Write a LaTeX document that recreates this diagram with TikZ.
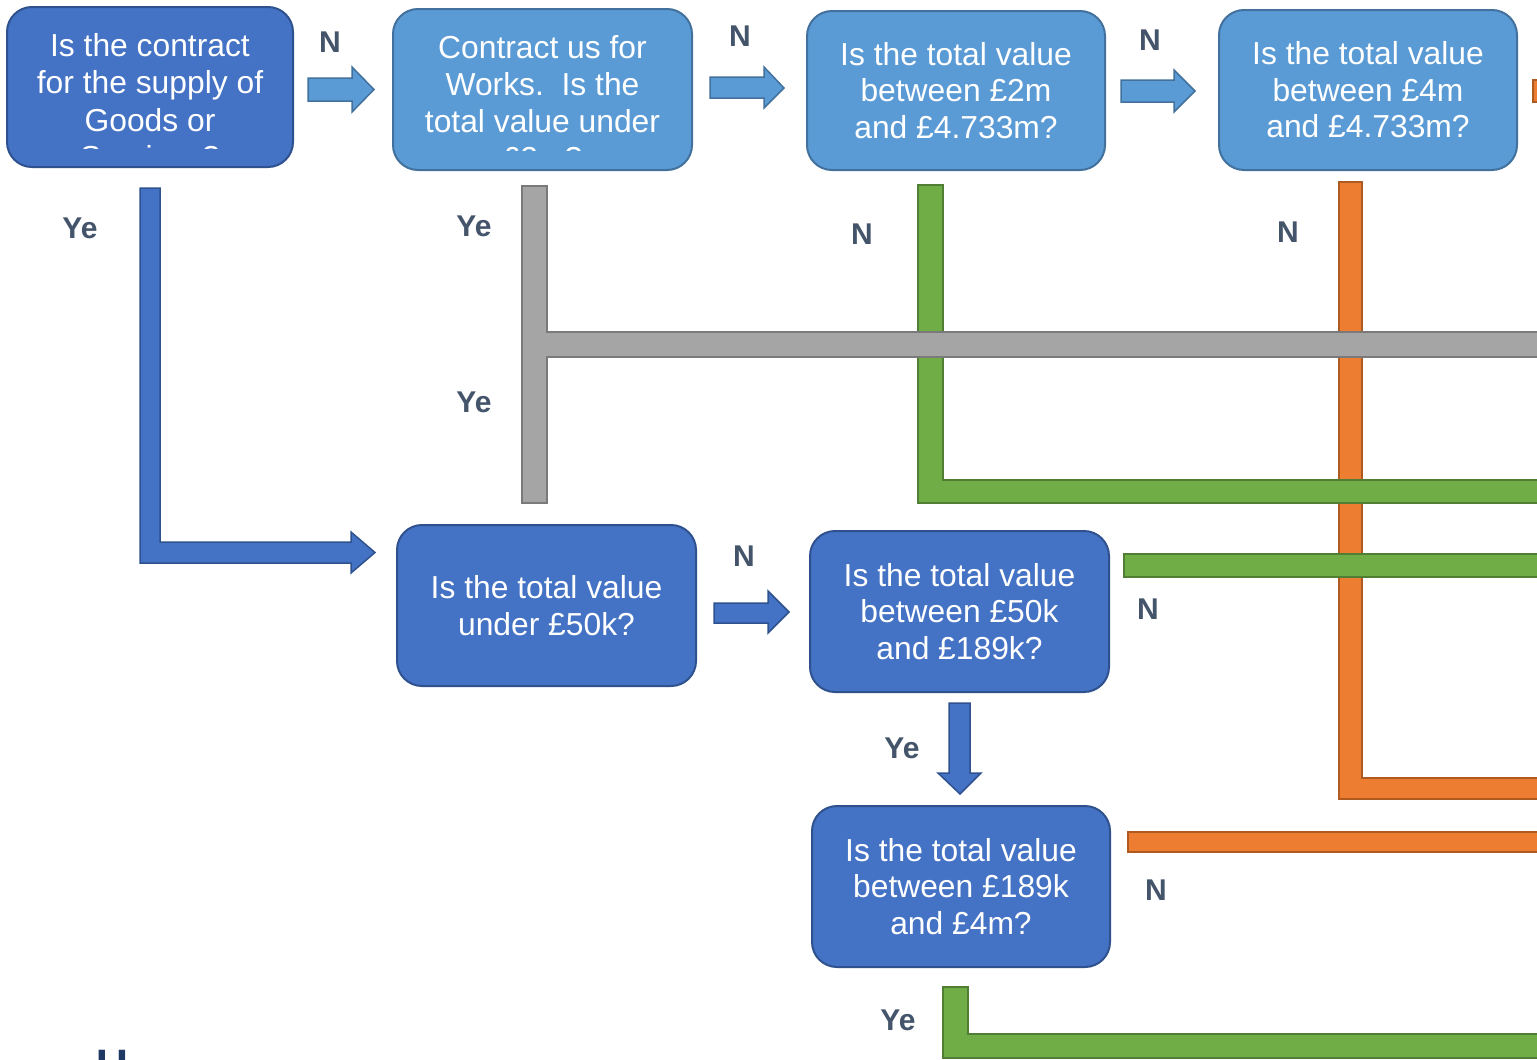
\documentclass[tikz,border=0pt]{standalone}
\usepackage{fontspec}
\setmainfont{Liberation Sans}
\definecolor{dkblue}{HTML}{4472C4}
\definecolor{dkblueb}{HTML}{2F528F}
\definecolor{ltblue}{HTML}{5B9BD5}
\definecolor{ltblueb}{HTML}{41719C}
\definecolor{grayf}{HTML}{A5A5A5}
\definecolor{grayb}{HTML}{7A7A7A}
\definecolor{greenf}{HTML}{70AD47}
\definecolor{greenb}{HTML}{507E32}
\definecolor{orangef}{HTML}{ED7D31}
\definecolor{orangeb}{HTML}{AE5A21}
\definecolor{labc}{HTML}{44546A}
\definecolor{navy}{HTML}{1F3864}
\tikzset{
  boxbase/.style={rectangle, rounded corners=25pt, line width=2pt, inner sep=0pt,
    text=white, align=center, font=\fontsize{31.8}{36.5}\selectfont},
  dkbox/.style={boxbase, fill=dkblue, draw=dkblueb},
  ltbox/.style={boxbase, fill=ltblue, draw=ltblueb},
  boxtext/.style={inner sep=0pt, text=white, align=center, font=\fontsize{31.8}{37.5}\selectfont},
  lab/.style={inner sep=0pt, text=labc, font=\bfseries\fontsize{30}{32}\selectfont},
  ltarrow/.style={fill=ltblue, draw=ltblueb, line width=1.5pt, line join=miter},
  dkarrow/.style={fill=dkblue, draw=dkblueb, line width=1.5pt, line join=miter},
  graybar/.style={fill=grayf, draw=grayb, line width=1.5pt},
  greenbar/.style={fill=greenf, draw=greenb, line width=1.5pt},
  orangebar/.style={fill=orangef, draw=orangeb, line width=1.5pt},
}
\begin{document}
\begin{tikzpicture}[x=1pt, y=-1pt]
\useasboundingbox (0,0) rectangle (1537,1060);
\clip (0,0) rectangle (1537,1060);
\fill[white] (0,0) rectangle (1537,1060);

% ---- boxes ----
\node[dkbox, minimum width=286pt, minimum height=160pt] (b1) at (150,87) {};
\begin{scope}
  \clip (7,7) rectangle (293,148);
  \node[boxtext, anchor=north, font=\fontsize{31.8}{37.5}\selectfont] (t1) at (150,33)
    {Is the contract\\for the supply of\\Goods or\\Services?};
\end{scope}

\node[ltbox, minimum width=299pt, minimum height=161pt] (b2) at (542.5,89.5) {};
\begin{scope}
  \clip (393,9) rectangle (692,150);
  \node[boxtext, anchor=north, font=\fontsize{31.8}{37}\selectfont] (t2) at (542.5,35)
    {Contract us for\\Works.\ \ Is the\\total value under\\£2m?};
\end{scope}

\node[ltbox, minimum width=298pt, minimum height=159pt] (b3) at (956,90.5)
  {Is the total value\\between £2m\\and £4.733m?};
\node[ltbox, minimum width=298pt, minimum height=160pt] (b4) at (1368,90)
  {Is the total value\\between £4m\\and £4.733m?};

\node[dkbox, minimum width=299pt, minimum height=161pt] (b5) at (546.5,605.5)
  {Is the total value\\under £50k?};
\node[dkbox, minimum width=299pt, minimum height=161pt] (b6) at (959.5,611.5)
  {Is the total value\\between £50k\\and £189k?};
\node[dkbox, minimum width=298pt, minimum height=161pt] (b7) at (961,886.5)
  {Is the total value\\between £189k\\and £4m?};

% ---- block arrows between boxes ----
\draw[ltarrow] (308,78) -- (352,78) -- (352,67) -- (374,89.5) -- (352,112) -- (352,101) -- (308,101) -- cycle;
\draw[ltarrow] (710,77) -- (764,77) -- (764,67) -- (784,88) -- (764,108) -- (764,98) -- (710,98) -- cycle;
\draw[ltarrow] (1121,80) -- (1174,80) -- (1174,70) -- (1195,91) -- (1174,112) -- (1174,102) -- (1121,102) -- cycle;
\draw[dkarrow] (714,603) -- (768,603) -- (768,591) -- (789,612) -- (768,633) -- (768,623) -- (714,623) -- cycle;
\draw[dkarrow] (949,703) -- (970,703) -- (970,773) -- (981,773) -- (960,794) -- (938,773) -- (949,773) -- cycle;
\draw[dkarrow] (140,188) -- (160,188) -- (160,542) -- (351,542) -- (351,532) -- (375,552.5) -- (351,573) -- (351,563) -- (140,563) -- cycle;

% ---- coloured routing bars ----
\draw[orangebar] (1533,80) rectangle (1545,102);
\draw[orangebar] (1339,182) -- (1362,182) -- (1362,778) -- (1545,778) -- (1545,799) -- (1339,799) -- cycle;
\draw[orangebar] (1128,832) rectangle (1545,852);
\draw[greenbar] (918,185) -- (943,185) -- (943,480) -- (1545,480) -- (1545,503) -- (918,503) -- cycle;
\draw[greenbar] (1124,554) rectangle (1545,577);
\draw[greenbar] (943,987) -- (968,987) -- (968,1034) -- (1545,1034) -- (1545,1058) -- (943,1058) -- cycle;
\draw[graybar] (522,186) -- (547,186) -- (547,332) -- (1545,332) -- (1545,357) -- (547,357) -- (547,503) -- (522,503) -- cycle;

% ---- labels ----
\node[lab] (n1) at (330,42) {N};
\node[lab] (n2) at (740,36) {N};
\node[lab] (n3) at (1150,40) {N};
\node[lab] (y1) at (80,228) {Ye};
\node[lab] (y2) at (474,226) {Ye};
\node[lab] (y3) at (474,402) {Ye};
\node[lab] (n4) at (862,234) {N};
\node[lab] (n5) at (1288,232) {N};
\node[lab] (n6) at (744,556) {N};
\node[lab] (n7) at (1148,609) {N};
\node[lab] (y4) at (902,748) {Ye};
\node[lab] (n8) at (1156,890) {N};
\node[lab] (y5) at (898,1020) {Ye};

% ---- cut-off heading letter ----
\node[inner sep=0pt, anchor=north, text=navy, font=\bfseries\fontsize{44}{48}\selectfont] (u) at (112.5,1050) {U};
\end{tikzpicture}
\end{document}
